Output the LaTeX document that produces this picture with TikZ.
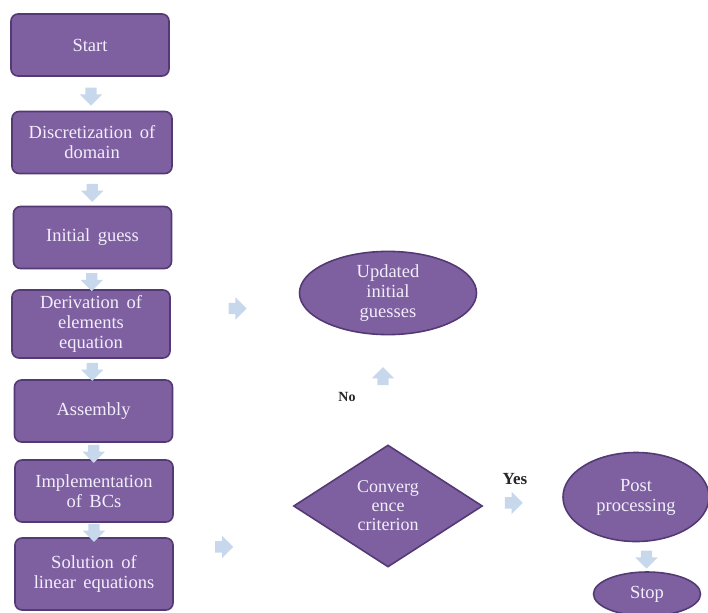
\documentclass[tikz,border=0pt]{standalone}
\usepackage{fontspec}
\setmainfont[WordSpace={1.6,1.2,1}]{Liberation Serif}
\usetikzlibrary{
  shapes.geometric,
  shapes.arrows,
  positioning,
  calc
}
\definecolor{boxfill}{RGB}{126,96,161}
\definecolor{boxline}{RGB}{84,58,116}
\definecolor{boxtext}{RGB}{242,237,250}
\definecolor{flowfill}{RGB}{200,216,236}

\begin{document}
\begin{tikzpicture}[
      x=1pt, y=-1pt,
      process/.style={
         rectangle,
         rounded corners=7pt,
         minimum width=158pt,
         minimum height=62pt,
         line width=1.6pt,
         draw=boxline,
         fill=boxfill,
         text=boxtext,
         align=center,
         font=\fontsize{18.5}{20}\selectfont
      },
      oval/.style={
         ellipse,
         inner sep=1pt,
         line width=1.6pt,
         draw=boxline,
         fill=boxfill,
         text=boxtext,
         align=center,
         font=\fontsize{18.5}{20}\selectfont
      },
      decision/.style={
         diamond,
         aspect=1.55,
         inner sep=0pt,
         minimum width=189pt,
         minimum height=122pt,
         line width=1.6pt,
         draw=boxline,
         fill=boxfill,
         text=boxtext,
         align=center,
         font=\fontsize{18}{19}\selectfont
      },
      flow/.style={
         single arrow,
         fill=flowfill,
         draw=none,
         inner sep=5.5pt,
         minimum height=18pt,
         single arrow head extend=5.5pt,
         single arrow head indent=0pt
      },
      southarrow/.style={flow, shape border rotate=270},
      northarrow/.style={flow, shape border rotate=90},
      eastarrow/.style={flow},
      answer/.style={text=black!85, font=\bfseries\fontsize{#1}{#1}\selectfont}
    ]
    \useasboundingbox (0,0) rectangle (708,612);

    % main column
    \node (start) [process] at (90,45) {Start};
    \node (disc)  [process, minimum width=160pt] at (92,142.5) {Discretization of\\domain};
    \node (init)  [process] at (92.5,237.5) {Initial guess};
    \node (deriv) [process, minimum height=68pt] at (91,324) {Derivation of\\elements\\equation};
    \node (assem) [process] at (93.5,411) {Assembly};
    \node (impl)  [process] at (94,491) {Implementation\\of BCs};
    \node (solve) [process, minimum height=72pt] at (94,574) {Solution of\\linear equations};

    % right part
    \node (upd)  [oval, minimum width=177pt, minimum height=80pt] at (388,293) {Updated\\initial\\guesses};
    \node (conv) [decision] at (388,506) {Converg\\ence\\criterion};
    \node (post) [oval, minimum width=146pt, minimum height=89pt] at (636,497) {Post\\processing};
    \node (stop) [oval, minimum width=107pt, minimum height=44pt] at (647,594) {Stop};

    \node (no)  [answer=14] at (347,397) {No};
    \node (yes) [answer=17] at (515,479) {Yes};

    % block arrows
    \foreach \a/\b in {start/disc, disc/init, init/deriv, deriv/assem, assem/impl, impl/solve}
       \node (\a-\b) [southarrow] at ($(\a.south)!0.5!(\b.north)$) {};
    \node (deriv-upd) [eastarrow] at ($(deriv.east)!0.5!(upd.west)$) {};
    \node (solve-conv) [eastarrow] at ($(solve.east)!0.4!(conv.west)$) {};
    \node (conv-upd) [northarrow, xshift=-5pt] at ($(conv.north)!0.6!(upd.south)$) {};
    \node (conv-post) [eastarrow] at ($(conv.east)!0.35!(post.west)$) {};
    \node (post-stop) [southarrow, xshift=5pt] at ($(post.south)!0.5!(stop.north)$) {};
\end{tikzpicture}
\end{document}
